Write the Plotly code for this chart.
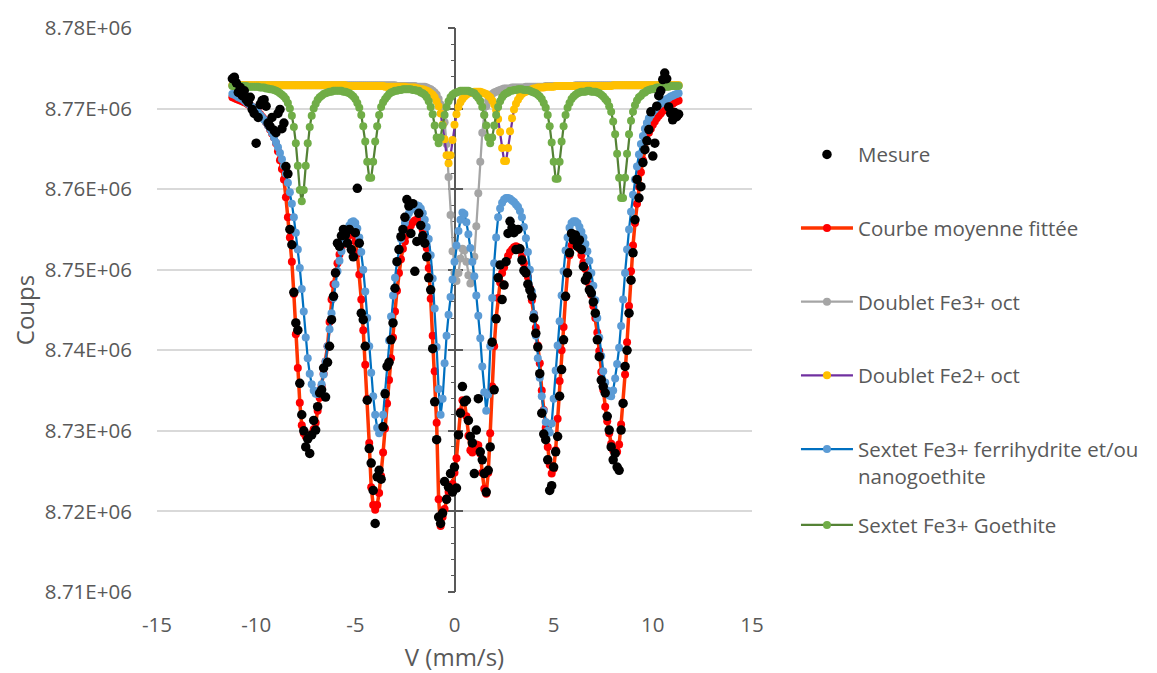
import plotly.graph_objects as go

# Vitesse (mm/s)
vitesse = [
    -11.2, -11.1, -11.0, -10.9, -10.8, -10.7, -10.6, -10.5, -10.4, -10.3,
    -10.2, -10.1, -10.0, -9.9, -9.8, -9.7, -9.6, -9.5, -9.4, -9.3,
    -9.2, -9.1, -9.0, -8.9, -8.8, -8.7, -8.6, -8.5, -8.4, -8.3,
    -8.2, -8.1, -8.0, -7.9, -7.8, -7.7, -7.6, -7.5, -7.4, -7.3,
    -7.2, -7.1, -7.0, -6.9, -6.8, -6.7, -6.6, -6.5, -6.4, -6.3,
    -6.2, -6.1, -6.0, -5.9, -5.8, -5.7, -5.6, -5.5, -5.4, -5.3,
    -5.2, -5.1, -5.0, -4.9, -4.8, -4.7, -4.6, -4.5, -4.4, -4.3,
    -4.2, -4.1, -4.0, -3.9, -3.8, -3.7, -3.6, -3.5, -3.4, -3.3,
    -3.2, -3.1, -3.0, -2.9, -2.8, -2.7, -2.6, -2.5, -2.4, -2.3,
    -2.2, -2.1, -2.0, -1.9, -1.8, -1.7, -1.6, -1.5, -1.4, -1.3,
    -1.2, -1.1, -1.0, -0.9, -0.8, -0.7, -0.6, -0.5, -0.4, -0.3,
    -0.2, -0.1, 0.0, 0.1, 0.2, 0.3, 0.4, 0.5, 0.6, 0.7,
    0.8, 0.9, 1.0, 1.1, 1.2, 1.3, 1.4, 1.5, 1.6, 1.7,
    1.8, 1.9, 2.0, 2.1, 2.2, 2.3, 2.4, 2.5, 2.6, 2.7,
    2.8, 2.9, 3.0, 3.1, 3.2, 3.3, 3.4, 3.5, 3.6, 3.7,
    3.8, 3.9, 4.0, 4.1, 4.2, 4.3, 4.4, 4.5, 4.6, 4.7,
    4.8, 4.9, 5.0, 5.1, 5.2, 5.3, 5.4, 5.5, 5.6, 5.7,
    5.8, 5.9, 6.0, 6.1, 6.2, 6.3, 6.4, 6.5, 6.6, 6.7,
    6.8, 6.9, 7.0, 7.1, 7.2, 7.3, 7.4, 7.5, 7.6, 7.7,
    7.8, 7.9, 8.0, 8.1, 8.2, 8.3, 8.4, 8.5, 8.6, 8.7,
    8.8, 8.9, 9.0, 9.1, 9.2, 9.3, 9.4, 9.5, 9.6, 9.7,
    9.8, 9.9, 10.0, 10.1, 10.2, 10.3, 10.4, 10.5, 10.6, 10.7,
    10.8, 10.9, 11.0, 11.1, 11.2, 11.3,
]

# Coups, in thousands
mesure_k = [
    8773.7, 8773.9, 8773.2, 8772.0, 8772.6, 8771.6, 8772.2, 8771.1, 8770.8, 8771.4,
    8769.9, 8769.4, 8765.7, 8768.9, 8770.5, 8771.0, 8771.1, 8770.3, 8768.2, 8767.8,
    8768.9, 8767.3, 8767.0, 8769.4, 8769.9, 8767.5, 8768.2, 8762.8, 8761.9, 8755.0,
    8753.1, 8747.2, 8743.4, 8742.5, 8735.9, 8732.0, 8730.0, 8728.0, 8729.0, 8727.2,
    8729.5, 8731.3, 8730.1, 8733.0, 8734.7, 8735.1, 8737.8, 8734.2, 8738.5, 8740.5,
    8743.8, 8746.7, 8749.6, 8753.3, 8752.9, 8754.2, 8755.0, 8754.3, 8753.3, 8755.0,
    8752.5, 8751.6, 8754.6, 8760.1, 8753.3, 8744.6, 8743.8, 8740.5, 8733.8, 8727.8,
    8726.0, 8722.6, 8718.5, 8724.3, 8725.1, 8724.0, 8730.5, 8734.6, 8738.0, 8738.5,
    8741.3, 8743.4, 8747.7, 8751.0, 8752.5, 8754.1, 8755.0, 8756.5, 8758.7, 8757.9,
    8754.5, 8758.2, 8749.8, 8753.5, 8757.0, 8755.5, 8754.2, 8753.3, 8751.6, 8749.0,
    8747.5, 8740.2, 8733.6, 8728.9, 8719.3, 8718.5, 8719.8, 8723.7, 8721.5, 8723.0,
    8724.7, 8722.4, 8725.5, 8722.9, 8729.5, 8732.2, 8735.5, 8733.6, 8733.8, 8731.3,
    8729.3, 8728.5, 8724.7, 8730.1, 8734.0, 8727.4, 8726.4, 8724.7, 8722.4, 8725.1,
    8728.0, 8741.0, 8735.1, 8743.9, 8749.0, 8750.6, 8746.3, 8748.1, 8751.0, 8754.5,
    8756.0, 8755.2, 8754.6, 8752.5, 8755.0, 8752.6, 8751.2, 8749.9, 8749.6, 8748.2,
    8747.5, 8746.7, 8744.0, 8742.1, 8740.4, 8737.1, 8732.2, 8729.6, 8728.9, 8726.4,
    8722.6, 8723.2, 8725.5, 8727.4, 8729.3, 8734.3, 8737.6, 8741.3, 8746.7, 8749.6,
    8752.1, 8754.5, 8753.7, 8754.3, 8752.9, 8753.7, 8752.5, 8750.4, 8748.7, 8749.2,
    8747.5, 8747.1, 8746.0, 8744.6, 8741.3, 8739.2, 8736.3, 8735.5, 8734.7, 8731.8,
    8730.1, 8728.0, 8726.4, 8727.2, 8725.5, 8725.1, 8730.1, 8733.4, 8738.0, 8740.0,
    8744.6, 8748.7, 8752.1, 8756.2, 8761.2, 8758.9, 8760.3, 8763.3, 8764.9, 8766.0,
    8767.4, 8769.6, 8764.1, 8765.7, 8770.3, 8771.6, 8772.2, 8773.6, 8774.4, 8773.7,
    8770.2, 8769.4, 8768.6, 8769.5, 8769.0, 8769.3,
]

courbe_fit_k = [
    8771.4, 8771.3, 8771.2, 8771.1, 8771.0, 8770.9, 8770.8, 8770.7, 8770.5, 8770.4,
    8770.2, 8770.0, 8769.8, 8769.6, 8769.3, 8769.0, 8768.7, 8768.3, 8767.9, 8767.4,
    8766.9, 8766.4, 8765.7, 8764.7, 8763.6, 8762.5, 8761.2, 8759.0, 8756.5, 8754.0,
    8751.0, 8747.0, 8742.0, 8737.8, 8733.5, 8730.7, 8729.7, 8729.3, 8729.3, 8729.4,
    8729.6, 8730.2, 8731.0, 8732.5, 8734.1, 8735.6, 8737.1, 8738.6, 8740.5, 8743.5,
    8746.3, 8748.2, 8749.7, 8750.8, 8751.9, 8752.8, 8753.4, 8753.8, 8754.1, 8754.3,
    8754.4, 8754.3, 8753.5, 8752.0, 8749.4, 8746.3, 8742.5, 8738.2, 8734.0, 8728.5,
    8723.0, 8720.8, 8720.2, 8720.8, 8722.3, 8724.4, 8727.3, 8730.3, 8733.4, 8736.3,
    8739.0, 8741.6, 8744.8, 8747.4, 8749.6, 8751.3, 8752.6, 8753.5, 8754.3, 8755.0,
    8755.5, 8755.9, 8756.1, 8756.2, 8756.0, 8755.6, 8754.9, 8754.0, 8752.7, 8750.2,
    8746.4, 8741.8, 8737.4, 8731.0, 8721.5, 8718.2, 8719.3, 8720.3, 8721.6, 8722.4,
    8722.8, 8723.4, 8724.8, 8726.6, 8729.5, 8732.4, 8733.8, 8733.6, 8731.8, 8729.4,
    8727.6, 8727.3, 8727.8, 8728.3, 8728.2, 8727.2, 8724.8, 8722.8, 8722.2, 8724.8,
    8729.7, 8735.5, 8740.5, 8744.0, 8746.5, 8748.4, 8749.6, 8750.3, 8751.0, 8751.7,
    8752.2, 8752.5, 8752.8, 8752.9, 8752.8, 8752.4, 8751.6, 8750.8, 8750.0, 8749.1,
    8747.7, 8746.2, 8744.5, 8742.8, 8740.6, 8738.4, 8735.0, 8732.6, 8730.4, 8728.0,
    8725.8, 8724.7, 8725.3, 8727.6, 8731.5, 8736.2, 8740.0, 8742.9, 8746.6, 8749.6,
    8751.8, 8753.0, 8753.7, 8753.6, 8753.2, 8752.6, 8751.8, 8750.9, 8750.1, 8749.2,
    8748.2, 8746.9, 8745.5, 8744.0, 8742.2, 8739.9, 8737.3, 8735.1, 8733.0, 8731.2,
    8729.7, 8728.4, 8727.6, 8727.2, 8727.4, 8728.3, 8730.8, 8733.5, 8737.0, 8741.0,
    8745.5, 8749.8, 8753.0, 8755.8, 8758.2, 8760.3, 8762.1, 8763.6, 8764.9, 8766.0,
    8767.0, 8767.5, 8768.0, 8768.4, 8768.8, 8769.1, 8769.4, 8769.7, 8769.9, 8770.1,
    8770.3, 8770.5, 8770.6, 8770.8, 8770.9, 8771.0,
]

doublet_fe3_k = [
    8772.9, 8772.9, 8772.9, 8772.9, 8772.9, 8772.9, 8772.9, 8772.9, 8772.9, 8772.9,
    8772.9, 8772.9, 8772.9, 8772.9, 8772.9, 8772.9, 8772.9, 8772.9, 8772.9, 8772.9,
    8772.9, 8772.9, 8772.9, 8772.9, 8772.9, 8772.9, 8772.9, 8772.9, 8772.9, 8772.9,
    8772.9, 8772.9, 8772.9, 8772.9, 8772.9, 8772.9, 8772.9, 8772.9, 8772.9, 8772.9,
    8772.9, 8772.9, 8772.9, 8772.9, 8772.9, 8772.9, 8772.9, 8772.9, 8772.9, 8772.9,
    8772.9, 8772.9, 8772.9, 8772.9, 8772.9, 8772.9, 8772.9, 8772.9, 8772.9, 8772.9,
    8772.9, 8772.9, 8772.9, 8772.9, 8772.9, 8772.9, 8772.9, 8772.9, 8772.9, 8772.9,
    8772.9, 8772.9, 8772.9, 8772.9, 8772.9, 8772.9, 8772.9, 8772.9, 8772.9, 8772.9,
    8772.9, 8772.9, 8772.9, 8772.8, 8772.8, 8772.8, 8772.8, 8772.8, 8772.8, 8772.8,
    8772.8, 8772.8, 8772.8, 8772.7, 8772.7, 8772.7, 8772.7, 8772.7, 8772.6, 8772.5,
    8772.4, 8772.2, 8772.0, 8771.7, 8771.2, 8770.5, 8769.5, 8768.3, 8765.6, 8761.5,
    8756.8, 8752.3, 8749.6, 8748.6, 8749.6, 8751.4, 8752.6, 8752.4, 8751.0, 8749.3,
    8748.3, 8749.0, 8751.6, 8755.4, 8759.5, 8763.4, 8767.0, 8769.2, 8770.3, 8771.0,
    8771.5, 8771.8, 8772.0, 8772.1, 8772.2, 8772.3, 8772.4, 8772.5, 8772.5, 8772.5,
    8772.5, 8772.6, 8772.6, 8772.6, 8772.6, 8772.6, 8772.6, 8772.6, 8772.7, 8772.7,
    8772.7, 8772.7, 8772.7, 8772.7, 8772.7, 8772.7, 8772.7, 8772.7, 8772.8, 8772.8,
    8772.8, 8772.8, 8772.8, 8772.8, 8772.8, 8772.8, 8772.8, 8772.8, 8772.8, 8772.8,
    8772.8, 8772.8, 8772.8, 8772.9, 8772.9, 8772.9, 8772.9, 8772.9, 8772.9, 8772.9,
    8772.9, 8772.9, 8772.9, 8772.9, 8772.9, 8772.9, 8772.9, 8772.9, 8772.9, 8772.9,
    8772.9, 8772.9, 8772.9, 8772.9, 8772.9, 8772.9, 8772.9, 8772.9, 8772.9, 8772.9,
    8772.9, 8772.9, 8772.9, 8772.9, 8772.9, 8772.9, 8772.9, 8772.9, 8772.9, 8772.9,
    8772.9, 8772.9, 8772.9, 8772.9, 8772.9, 8772.9, 8772.9, 8772.9, 8772.9, 8772.9,
    8772.9, 8772.9, 8772.9, 8772.9, 8772.9, 8772.9,
]

doublet_fe2_k = [
    8772.9, 8772.9, 8772.9, 8772.9, 8772.9, 8772.9, 8772.9, 8772.9, 8772.9, 8772.9,
    8772.9, 8772.9, 8772.9, 8772.9, 8772.9, 8772.9, 8772.9, 8772.9, 8772.9, 8772.9,
    8772.9, 8772.9, 8772.9, 8772.9, 8772.9, 8772.9, 8772.9, 8772.9, 8772.9, 8772.9,
    8772.9, 8772.9, 8772.9, 8772.9, 8772.9, 8772.9, 8772.9, 8772.9, 8772.9, 8772.9,
    8772.9, 8772.9, 8772.9, 8772.9, 8772.9, 8772.9, 8772.9, 8772.9, 8772.9, 8772.9,
    8772.9, 8772.9, 8772.9, 8772.9, 8772.9, 8772.9, 8772.9, 8772.9, 8772.8, 8772.8,
    8772.8, 8772.8, 8772.8, 8772.8, 8772.8, 8772.8, 8772.8, 8772.8, 8772.8, 8772.8,
    8772.8, 8772.8, 8772.8, 8772.8, 8772.8, 8772.8, 8772.8, 8772.7, 8772.7, 8772.7,
    8772.7, 8772.7, 8772.7, 8772.7, 8772.7, 8772.7, 8772.7, 8772.7, 8772.6, 8772.6,
    8772.6, 8772.6, 8772.6, 8772.5, 8772.5, 8772.4, 8772.4, 8772.3, 8772.2, 8772.1,
    8771.9, 8771.7, 8771.4, 8770.9, 8770.3, 8769.4, 8768.0, 8766.2, 8764.2, 8763.2,
    8764.2, 8766.1, 8768.0, 8769.3, 8770.2, 8770.8, 8771.2, 8771.5, 8771.7, 8771.9,
    8772.0, 8772.0, 8772.1, 8772.1, 8772.1, 8772.1, 8772.0, 8771.9, 8771.8, 8771.6,
    8771.4, 8771.0, 8770.5, 8769.8, 8768.7, 8767.1, 8765.1, 8763.5, 8763.5, 8765.1,
    8767.2, 8768.8, 8769.9, 8770.6, 8771.1, 8771.5, 8771.8, 8772.0, 8772.1, 8772.2,
    8772.3, 8772.4, 8772.5, 8772.5, 8772.6, 8772.6, 8772.6, 8772.6, 8772.7, 8772.7,
    8772.7, 8772.7, 8772.7, 8772.8, 8772.8, 8772.8, 8772.8, 8772.8, 8772.8, 8772.8,
    8772.8, 8772.8, 8772.8, 8772.8, 8772.8, 8772.8, 8772.8, 8772.8, 8772.8, 8772.8,
    8772.8, 8772.8, 8772.8, 8772.8, 8772.8, 8772.8, 8772.8, 8772.8, 8772.8, 8772.8,
    8772.8, 8772.8, 8772.9, 8772.9, 8772.9, 8772.9, 8772.9, 8772.9, 8772.9, 8772.9,
    8772.9, 8772.9, 8772.9, 8772.9, 8772.9, 8772.9, 8772.9, 8772.9, 8772.9, 8772.9,
    8772.9, 8772.9, 8772.9, 8772.9, 8772.9, 8772.9, 8772.9, 8772.9, 8772.9, 8772.9,
    8772.9, 8772.9, 8772.9, 8772.9, 8772.9, 8772.9,
]

sextet_ferri_k = [
    8771.8, 8771.7, 8771.6, 8771.4, 8771.3, 8771.2, 8771.0, 8770.8, 8770.6, 8770.4,
    8770.2, 8770.0, 8769.8, 8769.5, 8769.2, 8768.9, 8768.6, 8768.3, 8767.9, 8767.5,
    8767.0, 8766.4, 8765.8, 8765.2, 8764.5, 8763.7, 8762.9, 8761.9, 8760.8, 8759.6,
    8758.2, 8756.5, 8754.6, 8752.5, 8750.2, 8747.6, 8744.8, 8741.6, 8739.0, 8737.1,
    8735.8, 8735.0, 8734.6, 8734.6, 8735.0, 8735.8, 8737.0, 8738.6, 8740.5, 8742.6,
    8744.6, 8746.5, 8748.2, 8749.8, 8751.1, 8752.3, 8753.3, 8754.2, 8754.9, 8755.5,
    8755.9, 8756.0, 8755.8, 8755.1, 8754.0, 8752.2, 8750.0, 8747.3, 8744.0, 8740.5,
    8737.2, 8734.3, 8732.0, 8730.4, 8729.7, 8730.2, 8732.0, 8734.8, 8738.0, 8741.2,
    8744.2, 8746.8, 8749.0, 8750.9, 8752.5, 8753.8, 8754.9, 8755.8, 8756.5, 8757.0,
    8757.4, 8757.7, 8757.9, 8758.0, 8757.9, 8757.6, 8757.0, 8756.2, 8755.3, 8753.8,
    8751.8, 8748.9, 8745.2, 8740.4, 8735.2, 8732.0, 8734.0, 8738.4, 8741.8, 8744.4,
    8746.6, 8748.8, 8751.0, 8753.0, 8754.8, 8756.2, 8757.1, 8756.9, 8755.9, 8754.4,
    8752.7, 8751.0, 8749.2, 8746.8, 8744.3, 8741.5, 8738.0, 8734.8, 8732.5, 8734.5,
    8740.5, 8746.5, 8750.8, 8754.0, 8756.5, 8757.6, 8758.3, 8758.7, 8758.9, 8758.9,
    8758.8, 8758.6, 8758.4, 8758.1, 8757.8, 8757.3, 8756.5, 8755.3, 8753.9, 8752.2,
    8750.0, 8747.3, 8744.5, 8741.8, 8739.0, 8736.6, 8734.3, 8732.5, 8731.1, 8730.0,
    8729.8, 8730.9, 8734.0, 8737.5, 8740.6, 8743.6, 8746.8, 8749.8, 8752.4, 8754.0,
    8755.2, 8755.8, 8756.0, 8756.0, 8755.8, 8755.3, 8754.7, 8754.0, 8753.2, 8752.3,
    8751.1, 8749.6, 8748.0, 8746.2, 8744.0, 8741.6, 8739.3, 8737.4, 8736.0, 8735.0,
    8734.4, 8734.3, 8735.0, 8736.5, 8738.3, 8740.3, 8743.0, 8746.3, 8749.6, 8752.5,
    8755.0, 8757.2, 8759.3, 8761.2, 8762.8, 8764.3, 8765.6, 8766.6, 8767.5, 8768.2,
    8768.8, 8769.2, 8769.6, 8769.9, 8770.2, 8770.4, 8770.6, 8770.8, 8771.0, 8771.2,
    8771.3, 8771.5, 8771.6, 8771.7, 8771.8, 8771.9,
]

sextet_goethite_k = [
    8772.8, 8772.8, 8772.8, 8772.8, 8772.8, 8772.8, 8772.8, 8772.8, 8772.7, 8772.7,
    8772.7, 8772.7, 8772.7, 8772.7, 8772.6, 8772.6, 8772.6, 8772.5, 8772.5, 8772.4,
    8772.4, 8772.3, 8772.2, 8772.1, 8771.9, 8771.7, 8771.5, 8771.2, 8770.7, 8770.0,
    8769.1, 8767.7, 8765.7, 8762.9, 8759.9, 8758.5, 8759.9, 8762.9, 8765.7, 8767.7,
    8769.1, 8770.0, 8770.6, 8771.1, 8771.4, 8771.6, 8771.8, 8771.9, 8772.0, 8772.1,
    8772.1, 8772.2, 8772.2, 8772.2, 8772.2, 8772.2, 8772.1, 8772.1, 8772.0, 8771.9,
    8771.7, 8771.5, 8771.2, 8770.7, 8770.1, 8769.2, 8767.8, 8765.9, 8763.4, 8761.4,
    8761.4, 8763.4, 8765.9, 8767.8, 8769.2, 8770.2, 8770.8, 8771.2, 8771.5, 8771.8,
    8772.0, 8772.1, 8772.2, 8772.2, 8772.3, 8772.3, 8772.4, 8772.4, 8772.4, 8772.4,
    8772.4, 8772.3, 8772.3, 8772.2, 8772.2, 8772.0, 8771.9, 8771.7, 8771.4, 8770.9,
    8770.2, 8769.3, 8767.9, 8766.4, 8765.7, 8766.4, 8767.9, 8769.2, 8770.2, 8770.9,
    8771.4, 8771.7, 8771.9, 8772.0, 8772.1, 8772.2, 8772.2, 8772.2, 8772.2, 8772.2,
    8772.1, 8772.0, 8771.9, 8771.6, 8771.3, 8770.9, 8770.2, 8769.2, 8767.9, 8766.4,
    8765.7, 8766.4, 8767.9, 8769.2, 8770.2, 8770.9, 8771.4, 8771.7, 8771.9, 8772.0,
    8772.2, 8772.2, 8772.3, 8772.3, 8772.4, 8772.4, 8772.4, 8772.3, 8772.3, 8772.3,
    8772.2, 8772.1, 8772.0, 8771.9, 8771.7, 8771.5, 8771.2, 8770.7, 8770.1, 8769.2,
    8767.8, 8765.8, 8763.4, 8761.3, 8761.3, 8763.4, 8765.9, 8767.8, 8769.2, 8770.1,
    8770.7, 8771.2, 8771.5, 8771.7, 8771.9, 8772.0, 8772.1, 8772.1, 8772.1, 8772.2,
    8772.2, 8772.1, 8772.1, 8772.1, 8772.0, 8771.9, 8771.7, 8771.5, 8771.2, 8770.9,
    8770.3, 8769.6, 8768.4, 8766.8, 8764.4, 8761.4, 8758.9, 8758.9, 8761.4, 8764.4,
    8766.8, 8768.5, 8769.6, 8770.4, 8771.0, 8771.4, 8771.6, 8771.9, 8772.0, 8772.2,
    8772.3, 8772.4, 8772.4, 8772.5, 8772.6, 8772.6, 8772.6, 8772.7, 8772.7, 8772.7,
    8772.7, 8772.8, 8772.8, 8772.8, 8772.8, 8772.8,
]

y_ticks = [8.71e6, 8.72e6, 8.73e6, 8.74e6, 8.75e6, 8.76e6, 8.77e6, 8.78e6]
y_tick_text = ["8.71E+06", "8.72E+06", "8.73E+06", "8.74E+06",
               "8.75E+06", "8.76E+06", "8.77E+06", "8.78E+06"]
x_ticks = [-15, -10, -5, 0, 5, 10, 15]
x_tick_text = ["-15", "-10", "-5", "0", "5", "10", "15"]

series = {
    "mesure": mesure_k, "fit": courbe_fit_k, "fe3": doublet_fe3_k,
    "fe2": doublet_fe2_k, "ferri": sextet_ferri_k, "goe": sextet_goethite_k,
}
for name, vals in series.items():
    assert len(vals) == len(vitesse), (name, len(vals), len(vitesse))


def counts(vals_k):
    return [v * 1000 for v in vals_k]


FONT = "Open Sans"
TXT = "#595959"

fig = go.Figure()

fig.add_trace(go.Scatter(
    x=vitesse, y=counts(mesure_k), name="Mesure", mode="markers",
    marker=dict(color="#000000", size=9.5, line=dict(width=0)),
    legendgroup="g1", legendrank=1, zorder=6, legend="legend"))
fig.add_trace(go.Scatter(
    x=vitesse, y=counts(courbe_fit_k), name="Courbe moyenne fittée",
    mode="lines+markers", line=dict(color="#FF3300", width=3.5),
    marker=dict(color="#FF0000", size=8, line=dict(width=0)),
    legendgroup="g2", legendrank=2, zorder=1, legend="legend"))
fig.add_trace(go.Scatter(
    x=vitesse, y=counts(doublet_fe3_k), name="Doublet Fe3+ oct",
    mode="lines+markers", line=dict(color="#A5A5A5", width=2.25),
    marker=dict(color="#A5A5A5", size=8, line=dict(width=0)),
    legendgroup="g3", legendrank=3, zorder=2, legend="legend"))
fig.add_trace(go.Scatter(
    x=vitesse, y=counts(doublet_fe2_k), name="Doublet Fe2+ oct",
    mode="lines+markers", line=dict(color="#7030A0", width=2.25),
    marker=dict(color="#FFC000", size=8, line=dict(width=0)),
    legendgroup="g4", legendrank=4, zorder=3, legend="legend"))
fig.add_trace(go.Scatter(
    x=vitesse, y=counts(sextet_ferri_k),
    name="Sextet Fe3+ ferrihydrite et/ou<br>nanogoethite",
    mode="lines+markers", line=dict(color="#0070C0", width=2.25),
    marker=dict(color="#5B9BD5", size=8, line=dict(width=0)),
    legendgroup="g5", legendrank=5, zorder=4, legend="legend"))
fig.add_trace(go.Scatter(
    x=vitesse, y=counts(sextet_goethite_k), name="Sextet Fe3+ Goethite",
    mode="lines+markers", line=dict(color="#548235", width=2.25),
    marker=dict(color="#70AD47", size=8, line=dict(width=0)),
    legendgroup="g6", legendrank=6, zorder=5, legend="legend2"))

# empty helper traces so that the overlay axes carrying the tick marks at V = 0 are drawn
fig.add_trace(go.Scatter(x=[], y=[], yaxis="y2", showlegend=False, hoverinfo="skip"))
fig.add_trace(go.Scatter(x=[], y=[], yaxis="y3", showlegend=False, hoverinfo="skip"))

yr = [8.71e6, 8.78e6]
fig.update_layout(
    width=1149, height=665,
    margin=dict(l=149, r=405, t=20, b=81),
    paper_bgcolor="white", plot_bgcolor="white",
    font=dict(family=FONT, color=TXT, size=20.5),
    showlegend=True,
    xaxis=dict(
        range=[-15, 15], tickmode="array", tickvals=x_ticks, ticktext=x_tick_text,
        showgrid=False, zeroline=True, zerolinecolor="#595959", zerolinewidth=1.5,
        showline=True, linecolor="#BFBFBF", linewidth=1.5,
        ticks="outside", ticklen=14, tickcolor="rgba(0,0,0,0)",
        tickfont=dict(family=FONT, size=20.5, color=TXT),
        title=dict(text="V (mm/s)", font=dict(family=FONT, size=24, color=TXT), standoff=16),
        automargin=False,
    ),
    yaxis=dict(
        range=yr, tickmode="array", tickvals=y_ticks, ticktext=y_tick_text,
        showgrid=True, gridcolor="#D9D9D9", gridwidth=1.5,
        zeroline=False, showline=False,
        ticks="outside", ticklen=20, tickcolor="rgba(0,0,0,0)",
        tickfont=dict(family=FONT, size=20.5, color=TXT),
        title=dict(text="Coups", font=dict(family=FONT, size=24, color=TXT), standoff=10),
        automargin=False,
    ),
    yaxis2=dict(
        overlaying="y", anchor="free", position=0.5, side="left",
        range=yr, tickmode="linear", tick0=8.71e6, dtick=1e4,
        showgrid=False, zeroline=False, showticklabels=False, showline=False,
        ticks="outside", ticklen=7, tickwidth=1.5, tickcolor="#595959",
        minor=dict(ticks="outside", ticklen=4, tickwidth=1.2, tickcolor="#595959",
                   dtick=2000, tick0=8.71e6, showgrid=False),
    ),
    yaxis3=dict(
        overlaying="y", anchor="free", position=0.5, side="left",
        range=yr, tickmode="linear", tick0=8.71e6, dtick=1e4,
        showgrid=False, zeroline=False, showticklabels=False, showline=False,
        ticks="inside", ticklen=7, tickwidth=1.5, tickcolor="#595959",
    ),
    legend=dict(
        x=1.0739, y=0.811, xanchor="left", yanchor="top",
        bgcolor="rgba(0,0,0,0)", borderwidth=0,
        font=dict(family=FONT, size=20.5, color=TXT),
        traceorder="grouped", tracegroupgap=44, valign="top",
        itemsizing="trace", itemwidth=52,
    ),
    legend2=dict(
        x=1.0739, y=0.154, xanchor="left", yanchor="top",
        bgcolor="rgba(0,0,0,0)", borderwidth=0,
        font=dict(family=FONT, size=20.5, color=TXT),
        itemsizing="trace", itemwidth=52,
    ),
)

fig.write_html("out.html")
